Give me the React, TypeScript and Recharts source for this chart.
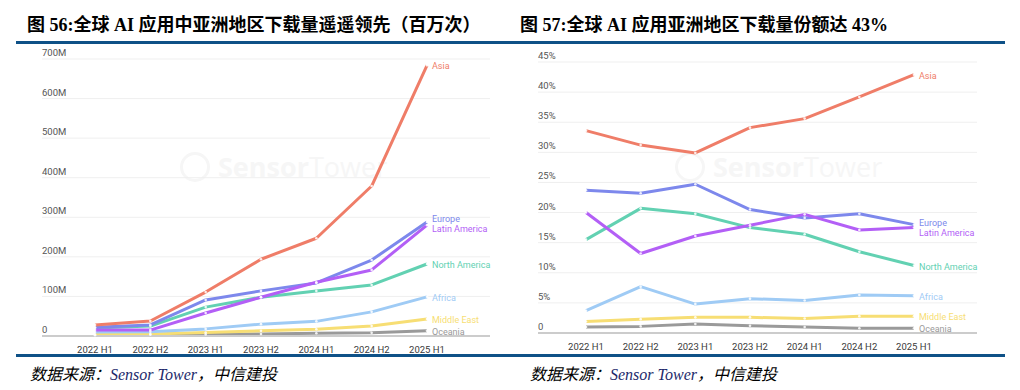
import { CartesianGrid, Line, LineChart, XAxis, YAxis } from 'recharts';

// ── data ──────────────────────────────────────────────────────────────
const periods = ['2022 H1', '2022 H2', '2023 H1', '2023 H2', '2024 H1', '2024 H2', '2025 H1'];

// downloads, millions
const asiaM = [28, 38, 111, 194, 247, 379, 684];
const europeM = [22, 28, 91, 114, 134, 192, 288];
const latamM = [15, 15, 58, 98, 136, 167, 280];
const northAmM = [20, 25, 73, 98, 114, 129, 182];
const africaM = [10, 11, 18, 30, 37, 61, 99];
const middleEastM = [4, 5, 9, 13, 17, 25, 43];
const oceaniaM = [2, 3, 4, 5, 7, 8, 13];

// share of downloads, %
const asiaPct = [33.6, 31.2, 29.9, 34.1, 35.6, 39.2, 42.9];
const europePct = [23.7, 23.2, 24.7, 20.5, 19.1, 19.8, 18.0];
const latamPct = [20.0, 13.2, 16.1, 17.9, 19.7, 17.1, 17.5];
const northAmPct = [15.5, 20.7, 19.8, 17.5, 16.4, 13.5, 11.2];
const africaPct = [3.7, 7.7, 4.8, 5.7, 5.4, 6.3, 6.2];
const middleEastPct = [1.9, 2.3, 2.6, 2.6, 2.4, 2.8, 2.8];
const oceaniaPct = [1.0, 1.1, 1.5, 1.2, 1.0, 0.8, 0.8];

const ticksM = [0, 100, 200, 300, 400, 500, 600, 700];
const ticksPct = [0, 5, 10, 15, 20, 25, 30, 35, 40, 45];

// ── styles ────────────────────────────────────────────────────────────
const BLUE = '#0e5187';
const TICK_FONT = 'Roboto, "Noto Sans", sans-serif';

// draw order: bottom first
const SERIES = [
  { key: 'oceania', name: 'Oceania', color: '#9a9a9a', dyL: 1, dyR: 1 },
  { key: 'middleEast', name: 'Middle East', color: '#f7de74', dyL: 1, dyR: 1 },
  { key: 'africa', name: 'Africa', color: '#9fcbf5', dyL: 1, dyR: 1 },
  { key: 'northAm', name: 'North America', color: '#62d1b2', dyL: 1, dyR: 1 },
  { key: 'europe', name: 'Europe', color: '#7d88ec', dyL: -3, dyR: -2 },
  { key: 'latam', name: 'Latin America', color: '#b35ff6', dyL: 4, dyR: 5 },
  { key: 'asia', name: 'Asia', color: '#ef7d68', dyL: 1, dyR: 1 },
];

const downloadRows = periods.map((p, i) => ({
  period: p,
  asia: asiaM[i],
  europe: europeM[i],
  latam: latamM[i],
  northAm: northAmM[i],
  africa: africaM[i],
  middleEast: middleEastM[i],
  oceania: oceaniaM[i],
}));

const shareRows = periods.map((p, i) => ({
  period: p,
  asia: asiaPct[i],
  europe: europePct[i],
  latam: latamPct[i],
  northAm: northAmPct[i],
  africa: africaPct[i],
  middleEast: middleEastPct[i],
  oceania: oceaniaPct[i],
}));

const fmtM = (v: number) => (v === 0 ? '0' : `${v}M`);
const fmtPct = (v: number) => (v === 0 ? '0' : `${v}%`);

function makeYTick(lx: number, fmt: (v: number) => string) {
  return (props: any) => (
    <text
      x={lx}
      y={props.y - 3}
      fontSize={9.5}
      fill="#555"
      fontFamily={TICK_FONT}
      textAnchor="start"
    >
      {fmt(props.payload.value)}
    </text>
  );
}

function makeEndLabel(name: string, color: string, dy: number) {
  return (props: any) => {
    if (props.index !== periods.length - 1) return <g />;
    return (
      <text
        x={props.x + 5}
        y={props.y + dy + 3}
        fontSize={9}
        fill={color}
        fontFamily={TICK_FONT}
      >
        {name}
      </text>
    );
  };
}

function Watermark({ left }: { left: number }) {
  return (
    <div style={{ position: 'absolute', left, top: 148, display: 'flex', alignItems: 'center' }}>
      <div
        style={{
          width: 30,
          height: 30,
          borderRadius: 15,
          border: '3px solid #f6f6f6',
          boxSizing: 'border-box',
          marginRight: 8,
        }}
      />
      <span style={{ fontFamily: '"Open Sans", sans-serif', fontSize: 27, color: '#f6f6f6' }}>
        <b>Sensor</b>Tower
      </span>
    </div>
  );
}

function Panel({
  left,
  title,
  rows,
  ticks,
  fmt,
  margin,
  pad,
  side,
}: {
  left: number;
  title: string;
  rows: any[];
  ticks: number[];
  fmt: (v: number) => string;
  margin: { top: number; right: number; bottom: number; left: number };
  pad: { left: number; right: number };
  side: 'L' | 'R';
}) {
  const axisW = 30;
  return (
    <div style={{ position: 'absolute', left, top: 0, width: 510, height: 390 }}>
      <div
        style={{
          position: 'absolute',
          left: side === 'L' ? 27 : 10,
          top: 10,
          fontFamily: '"Liberation Serif", "Noto Sans CJK SC", serif',
          fontWeight: 'bold',
          fontSize: 18,
          color: '#000',
          whiteSpace: 'nowrap',
        }}
      >
        {title}
      </div>
      <Watermark left={side === 'L' ? 180 : 165} />
      <div style={{ position: 'absolute', left: 0, top: 0 }}>
        <LineChart
          width={510}
          height={390}
          data={rows}
          margin={{ ...margin, left: margin.left - axisW }}
        >
          <CartesianGrid horizontal vertical={false} stroke="#efefef" strokeWidth={1} />
          <XAxis
            dataKey="period"
            padding={pad}
            height={20}
            tickLine={false}
            axisLine={{ stroke: '#cccccc', strokeWidth: 2 }}
            tick={{ fontSize: 9.5, fill: '#3a3a3a', fontFamily: TICK_FONT }}
            tickMargin={4}
            interval={0}
          />
          <YAxis
            width={axisW}
            domain={[ticks[0], ticks[ticks.length - 1]]}
            ticks={ticks}
            axisLine={false}
            tickLine={false}
            tick={makeYTick(margin.left, fmt)}
          />
          {SERIES.map((s) => (
            <Line
              key={s.key}
              type="linear"
              dataKey={s.key}
              stroke={s.color}
              strokeWidth={3}
              strokeLinejoin="round"
              dot={{ r: 1.3, fill: 'rgba(255,255,255,0.85)', stroke: 'none' }}
              activeDot={false}
              isAnimationActive={false}
              label={makeEndLabel(s.name, s.color, side === 'L' ? s.dyL : s.dyR)}
            />
          ))}
        </LineChart>
      </div>
    </div>
  );
}

export default function App() {
  return (
    <div
      style={{
        position: 'absolute',
        left: 0,
        top: 0,
        width: 1020,
        height: 390,
        background: '#fff',
        overflow: 'hidden',
      }}
    >
      <Panel
        left={0}
        title="图 56:全球 AI 应用中亚洲地区下载量遥遥领先（百万次）"
        rows={downloadRows}
        ticks={ticksM}
        fmt={fmtM}
        margin={{ top: 59, right: 20, bottom: 34, left: 42 }}
        pad={{ left: 53, right: 63 }}
        side="L"
      />
      <Panel
        left={510}
        title="图 57:全球 AI 应用亚洲地区下载量份额达 43%"
        rows={shareRows}
        ticks={ticksPct}
        fmt={fmtPct}
        margin={{ top: 62, right: 43, bottom: 37, left: 28 }}
        pad={{ left: 48, right: 63 }}
        side="R"
      />
      <div style={{ position: 'absolute', left: 16, top: 41, width: 989, height: 3, background: BLUE }} />
      <div style={{ position: 'absolute', left: 16, top: 354, width: 989, height: 3, background: BLUE }} />
      {[30, 530].map((x) => (
        <div
          key={x}
          style={{
            position: 'absolute',
            left: x,
            top: 361,
            fontFamily: '"Liberation Serif", "Noto Sans CJK SC", serif',
            fontStyle: 'italic',
            fontSize: 16,
            color: '#000',
            whiteSpace: 'nowrap',
          }}
        >
          数据来源：<span style={{ color: '#1d2a6b' }}>Sensor Tower</span>，中信建投
        </div>
      ))}
    </div>
  );
}
